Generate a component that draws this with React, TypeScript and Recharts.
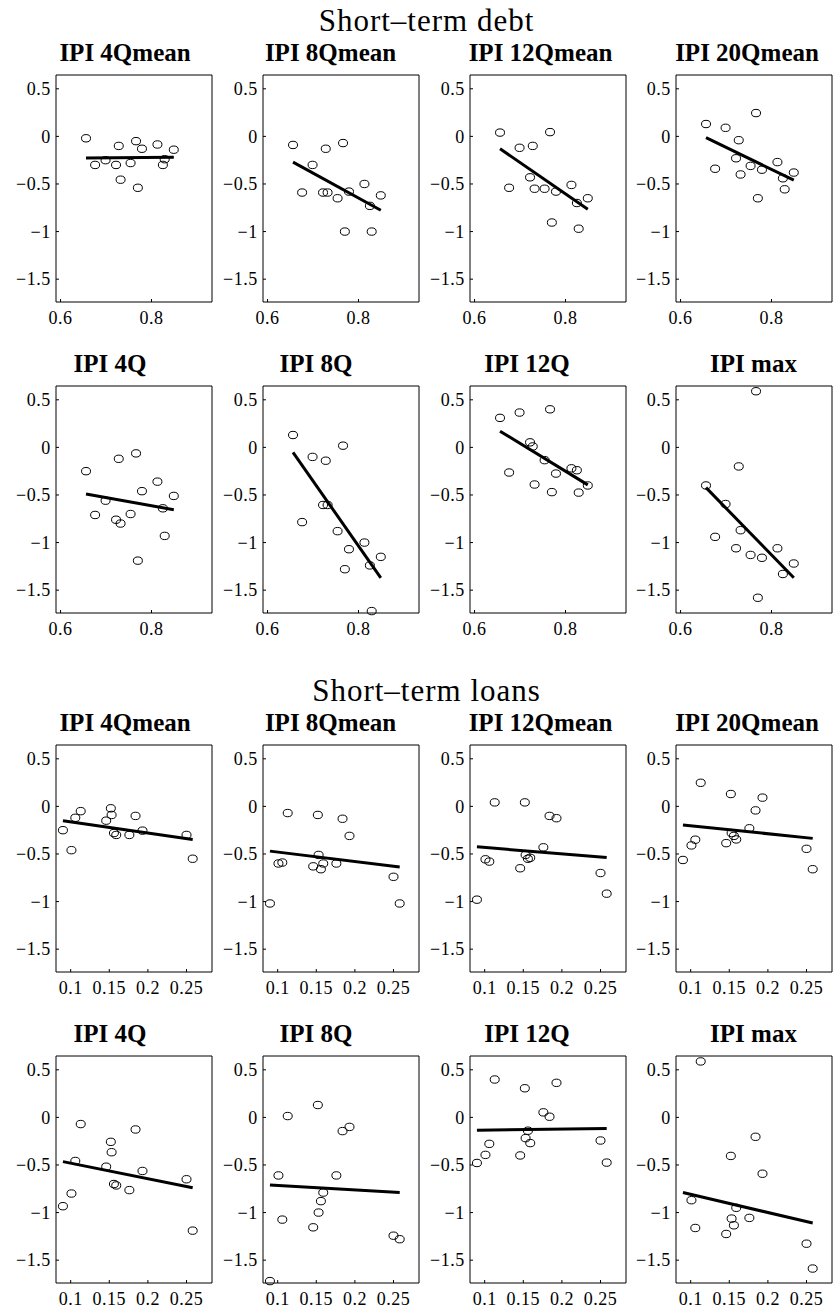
import React from 'react'
import { ScatterChart, Scatter, XAxis, YAxis } from 'recharts'

// x values, one per country, shared by every panel of a block
const debtX = [0.656, 0.676, 0.699, 0.722, 0.728, 0.732, 0.754, 0.766, 0.77, 0.779, 0.813, 0.825, 0.829, 0.849]
const loanX = [0.09, 0.101, 0.106, 0.113, 0.146, 0.152, 0.153, 0.156, 0.159, 0.176, 0.184, 0.193, 0.25, 0.258]

const panelTitles = ['IPI 4Qmean', 'IPI 8Qmean', 'IPI 12Qmean', 'IPI 20Qmean', 'IPI 4Q', 'IPI 8Q', 'IPI 12Q', 'IPI max']
const blockTitles = ['Short\u2013term debt', 'Short\u2013term loans']

const debtTicks = [0.6, 0.8]
const loanTicks = [0.1, 0.15, 0.2, 0.25]
const yTicks = [0.5, 0, -0.5, -1, -1.5]

// short-term debt block (null = off the axes)
const debt4Qmean = [-0.02, -0.3, -0.25, -0.3, -0.1, -0.455, -0.28, -0.05, -0.54, -0.13, -0.085, -0.3, -0.24, -0.14]
const debt8Qmean = [-0.09, -0.59, -0.3, -0.59, -0.13, -0.59, -0.65, -0.07, -1.0, -0.58, -0.5, -0.73, -1.0, -0.62]
const debt12Qmean = [0.04, -0.54, -0.12, -0.43, -0.1, -0.55, -0.55, 0.045, -0.905, -0.58, -0.51, -0.7, -0.97, -0.65]
const debt20Qmean = [0.13, -0.34, 0.09, -0.23, -0.04, -0.4, -0.31, 0.245, -0.65, -0.35, -0.27, -0.44, -0.556, -0.38]
const debt4Q = [-0.25, -0.71, -0.56, -0.76, -0.12, -0.8, -0.7, -0.063, -1.19, -0.46, -0.36, -0.64, -0.93, -0.51]
const debt8Q = [0.13, -0.785, -0.1, -0.605, -0.14, -0.605, -0.88, 0.018, -1.28, -1.07, -1.0, -1.24, -1.72, -1.15]
const debt12Q = [0.31, -0.264, 0.366, 0.053, 0.01, -0.39, -0.134, 0.4, -0.47, -0.275, -0.22, -0.24, -0.475, -0.4]
const debtMax = [-0.4, -0.94, -0.595, -1.06, -0.2, -0.87, -1.13, 0.59, -1.58, -1.16, -1.06, -1.33, null, -1.22]

// short-term loans block
const loan4Qmean = [-0.25, -0.46, -0.12, -0.05, -0.15, -0.02, -0.09, -0.28, -0.3, -0.3, -0.1, -0.255, -0.3, -0.55]
const loan8Qmean = [-1.02, -0.6, -0.59, -0.07, -0.63, -0.09, -0.51, -0.66, -0.6, -0.6, -0.13, -0.31, -0.74, -1.02]
const loan12Qmean = [-0.98, -0.556, -0.58, 0.042, -0.65, 0.042, -0.51, -0.55, -0.54, -0.43, -0.1, -0.124, -0.7, -0.917]
const loan20Qmean = [-0.563, -0.41, -0.35, 0.248, -0.386, 0.13, -0.28, -0.31, -0.347, -0.23, -0.042, 0.092, -0.446, -0.66]
const loan4Q = [-0.933, -0.8, -0.458, -0.07, -0.518, -0.257, -0.366, -0.7, -0.715, -0.764, -0.127, -0.563, -0.65, -1.19]
const loan8Q = [-1.72, -0.61, -1.074, 0.014, -1.155, 0.13, -1.0, -0.88, -0.79, -0.61, -0.144, -0.1, -1.243, -1.28]
const loan12Q = [-0.479, -0.394, -0.278, 0.398, -0.4, 0.306, -0.218, -0.14, -0.27, 0.053, 0.007, 0.363, -0.243, -0.475]
const loanMax = [null, -0.87, -1.162, 0.588, -1.225, -0.405, -1.063, -1.134, -0.95, -1.056, -0.204, -0.592, -1.327, -1.588]

// fitted line: value at smallest x, value at largest x
const debtFits = [[-0.227, -0.22], [-0.27, -0.776], [-0.13, -0.766], [-0.014, -0.46], [-0.49, -0.655], [-0.053, -1.37], [0.17, -0.394], [-0.423, -1.37]]
const loanFits = [[-0.152, -0.347], [-0.47, -0.637], [-0.425, -0.538], [-0.195, -0.336], [-0.465, -0.74], [-0.711, -0.79], [-0.134, -0.116], [-0.79, -1.11]]

const debtSeries = [debt4Qmean, debt8Qmean, debt12Qmean, debt20Qmean, debt4Q, debt8Q, debt12Q, debtMax]
const loanSeries = [loan4Qmean, loan8Qmean, loan12Qmean, loan20Qmean, loan4Q, loan8Q, loan12Q, loanMax]

// layout
const BOX_W = 156
const BOX_H = 227
const COL_X = [56, 263, 469.5, 676]
const ROW_Y = [74.5, 385.7, 745, 1055.5]
const TITLE_DX = [-9, -10.5, -7, -7, -24, -25, -20.5, -0.5]
const BLOCK_TITLE_Y = [30.5, 701]
const AXIS_W = 50
const PAD = 6
const X_AXIS_H = 30
const Y_DOMAIN = [-1.74, 0.645]
const DEBT_DOMAIN = [0.59, 0.933]
const LOAN_DOMAIN = [0.081, 0.283]
const FONT = 'Liberation Serif, Times New Roman, serif'
const TICK_FONT_SIZE = 18

const fmt = (v: number) => (v === 0 ? '0' : (v < 0 ? '\u2212' : '') + String(Math.abs(v)))

const XTick = ({ x, y, payload }: any) => (
  <text
    x={x}
    y={y}
    dy="0.71em"
    textAnchor="middle"
    fontFamily={FONT}
    fontSize={TICK_FONT_SIZE}
    letterSpacing={0.5}
    fill="#000"
  >
    {fmt(payload.value)}
  </text>
)

const YTick = ({ x, y, payload }: any) => (
  <text
    x={x}
    y={y}
    dy="0.34em"
    textAnchor="end"
    fontFamily={FONT}
    fontSize={TICK_FONT_SIZE}
    letterSpacing={0.5}
    fill="#000"
  >
    {fmt(payload.value)}
  </text>
)

const Ring = (props: any) => (
  <ellipse cx={props.cx} cy={props.cy} rx={4.5} ry={3.7} fill="none" stroke="#000" strokeWidth={1} />
)

function Panel({ xs, ys, fit, xDomain, xTicks, left, top }: any) {
  const points = xs.map((x: number, i: number) => ({ x, y: ys[i] })).filter((p: any) => p.y !== null)
  const line = [
    { x: Math.min(...xs), y: fit[0] },
    { x: Math.max(...xs), y: fit[1] },
  ]
  return (
    <div style={{ position: 'absolute', left: left - AXIS_W, top: top - PAD }}>
      <ScatterChart
        width={AXIS_W + BOX_W + PAD}
        height={PAD + BOX_H + X_AXIS_H}
        margin={{ top: PAD - 1, right: PAD - 1, bottom: 0, left: 0 }}
      >
        <XAxis
          type="number"
          dataKey="x"
          domain={xDomain}
          ticks={xTicks}
          interval={0}
          height={X_AXIS_H}
          tickSize={-3}
          tickMargin={11.8}
          tick={<XTick />}
          stroke="#000"
        />
        <XAxis
          xAxisId="top"
          orientation="top"
          type="number"
          dataKey="x"
          domain={xDomain}
          allowDataOverflow
          ticks={xTicks}
          interval={0}
          height={1}
          tickSize={-3}
          tick={false}
          stroke="#000"
        />
        <YAxis
          type="number"
          dataKey="y"
          domain={Y_DOMAIN}
          ticks={yTicks}
          interval={0}
          width={AXIS_W}
          tickSize={-3}
          tickMargin={8.3}
          tick={<YTick />}
          stroke="#000"
        />
        <YAxis
          yAxisId="right"
          orientation="right"
          type="number"
          dataKey="y"
          domain={Y_DOMAIN}
          allowDataOverflow
          ticks={yTicks}
          interval={0}
          width={1}
          tickSize={-3}
          tick={false}
          stroke="#000"
        />
        <Scatter data={points} shape={Ring} isAnimationActive={false} />
        <Scatter
          xAxisId="top"
          yAxisId="right"
          data={line}
          line={{ stroke: '#000', strokeWidth: 3 }}
          shape={() => <g />}
          isAnimationActive={false}
        />
      </ScatterChart>
    </div>
  )
}

export default function App() {
  const blocks = [
    { xs: debtX, series: debtSeries, fits: debtFits, domain: DEBT_DOMAIN, ticks: debtTicks, rows: [0, 1] },
    { xs: loanX, series: loanSeries, fits: loanFits, domain: LOAN_DOMAIN, ticks: loanTicks, rows: [2, 3] },
  ]
  return (
    <div
      style={{
        position: 'absolute',
        left: 0,
        top: 0,
        width: 833,
        height: 1312,
        overflow: 'hidden',
        background: '#fff',
        fontFamily: FONT,
      }}
    >
      <svg width={833} height={1312} style={{ position: 'absolute', left: 0, top: 0 }}>
        {blockTitles.map((t, i) => (
          <text
            key={t}
            x={426.5}
            y={BLOCK_TITLE_Y[i]}
            textAnchor="middle"
            fontFamily={FONT}
            fontSize={31}
            letterSpacing={1}
            fill="#000"
          >
            {t}
          </text>
        ))}
        {blocks.map((b) =>
          panelTitles.map((t, k) => (
            <text
              key={b.rows[0] + '-' + k}
              x={COL_X[k % 4] + BOX_W / 2 + TITLE_DX[k]}
              y={ROW_Y[b.rows[Math.floor(k / 4)]] - 14}
              textAnchor="middle"
              fontFamily={FONT}
              fontSize={25}
              fontWeight="bold"
              fill="#000"
            >
              {t}
            </text>
          ))
        )}
      </svg>
      {blocks.map((b) =>
        b.series.map((ys, k) => (
          <Panel
            key={b.rows[0] + '-' + k}
            xs={b.xs}
            ys={ys}
            fit={b.fits[k]}
            xDomain={b.domain}
            xTicks={b.ticks}
            left={COL_X[k % 4]}
            top={ROW_Y[b.rows[Math.floor(k / 4)]]}
          />
        ))
      )}
    </div>
  )
}
